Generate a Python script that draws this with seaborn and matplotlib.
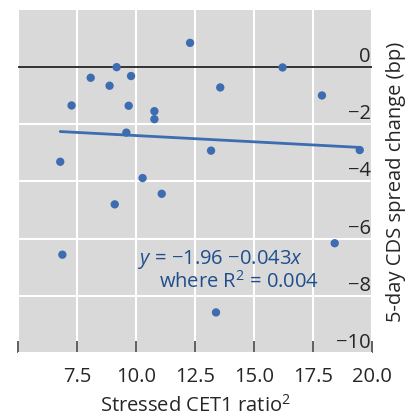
import matplotlib
matplotlib.use("Agg")
import matplotlib.pyplot as plt
import seaborn as sns
import pandas as pd

cet1_ratio = [12.29, 9.18, 16.21, 8.08, 9.79, 8.88, 13.57, 17.88, 7.27, 9.69,
              10.78, 10.78, 9.59, 13.18, 19.48, 6.79, 10.28, 11.09, 9.10, 6.88,
              18.42, 13.39]
cds_change = [0.85, 0.00, -0.01, -0.37, -0.31, -0.65, -0.71, -0.99, -1.34, -1.35,
              -1.54, -1.82, -2.29, -2.92, -2.90, -3.31, -3.88, -4.43, -4.80, -6.56,
              -6.16, -8.58]
x_ticks = [5.0, 7.5, 10.0, 12.5, 15.0, 17.5, 20.0]
x_ticklabels = ["", "7.5", "10.0", "12.5", "15.0", "17.5", "20.0"]
y_ticks = [0, -2, -4, -6, -8, -10]
y_ticklabels = ["0", "\u22122", "\u22124", "\u22126", "\u22128", "\u221210"]
eq_line1 = "$\\mathit{y}$ = \u22121.96 \u22120.043$\\mathit{x}$"
eq_line2 = "where R$^2$ = 0.004"

sns.set_theme(style="darkgrid")
plt.rcParams["font.family"] = ["Open Sans", "DejaVu Sans"]
plt.rcParams["mathtext.fontset"] = "custom"
plt.rcParams["mathtext.it"] = "Open Sans:italic"
plt.rcParams["mathtext.rm"] = "Open Sans"

blue = "#3d6cb0"
df = pd.DataFrame({"x": cet1_ratio, "y": cds_change})

fig = plt.figure(figsize=(4.12, 4.19), dpi=100)
ax = fig.add_axes([18/412, 1 - 353/419, (372-18)/412, (353-10)/419])
ax.set_facecolor("#d9d9d9")

ax.axhline(0, color="#222222", lw=1.3, zorder=1)
sns.regplot(data=df, x="x", y="y", ci=None, ax=ax,
            scatter_kws=dict(s=36, color=blue, edgecolor="none", alpha=1, zorder=3),
            line_kws=dict(color=blue, lw=2, zorder=2))

ax.set_xlim(5, 20)
ax.set_ylim(-10, 2)
ax.grid(True, color="white", lw=1.5)
for s in ax.spines.values():
    s.set_visible(False)

fs = 14.5
ax.set_xticks(x_ticks)
ax.set_xticklabels(x_ticklabels)
ax.tick_params(axis="x", direction="in", length=9, width=1.2, color="#444444",
               labelsize=fs, pad=10, bottom=True)

ax.yaxis.tick_right()
ax.set_yticks(y_ticks)
ax.set_yticklabels(y_ticklabels)
ax.tick_params(axis="y", right=False, labelsize=fs, pad=-7)
for lab in ax.get_yticklabels():
    lab.set_horizontalalignment("right")
    lab.set_verticalalignment("bottom")

ax.set_xlabel("Stressed CET1 ratio$^2$", fontsize=fs, labelpad=6)
ax.yaxis.set_label_position("right")
ax.set_ylabel("5-day CDS spread change (bp)", fontsize=fs, labelpad=10)

ax.text(0.573, 0.274, eq_line1, transform=ax.transAxes, ha="center", va="center",
        fontsize=fs, color="#1f4e8c")
ax.text(0.624, 0.207, eq_line2, transform=ax.transAxes, ha="center", va="center",
        fontsize=fs, color="#1f4e8c")

fig.savefig("out.png", dpi=100)
